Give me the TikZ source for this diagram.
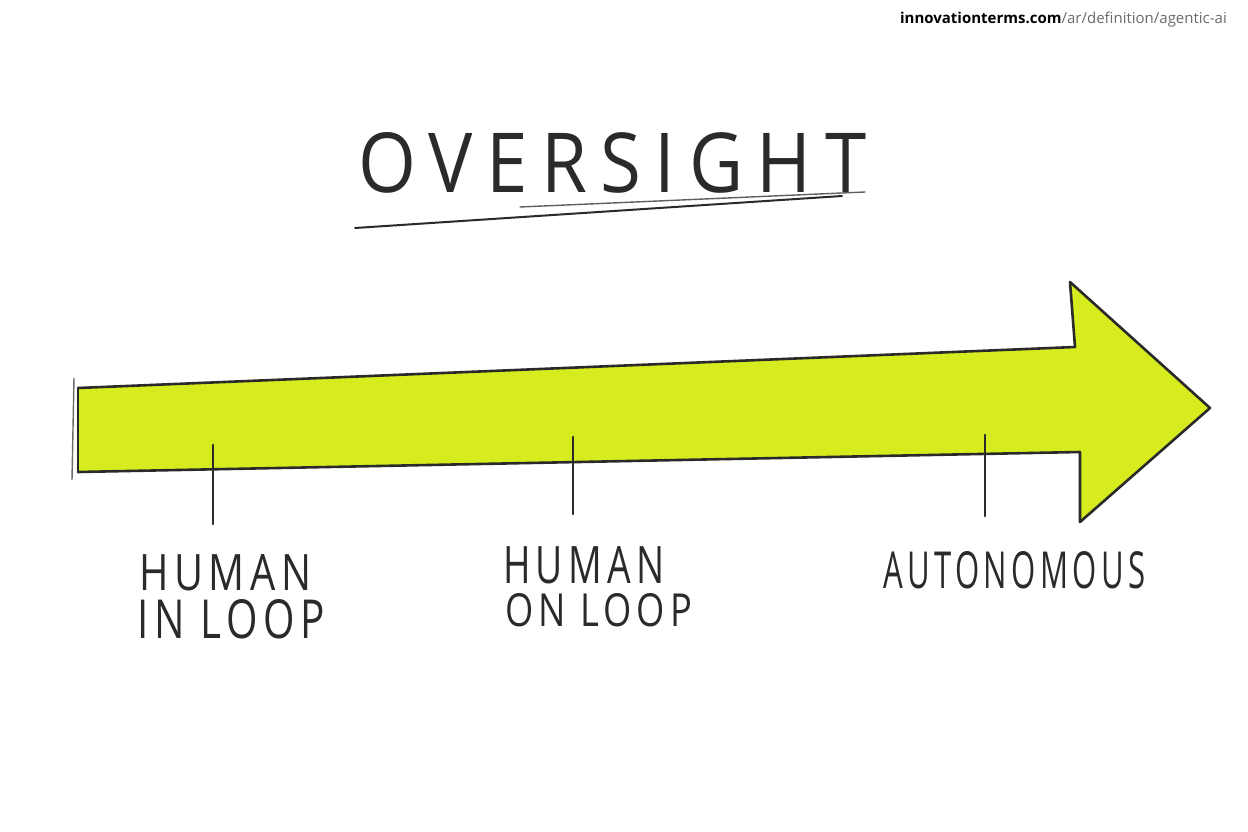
\documentclass[tikz,border=0pt]{standalone}
\usepackage{fontspec}
\usepackage{graphicx}
\usetikzlibrary{calc}
\setmainfont{Open Sans}
\newfontfamily\hand[LetterSpace=14]{Open Sans}
\newfontfamily\titlefont[LetterSpace=18]{Open Sans}
\newfontfamily\urlfont{Open Sans}
\definecolor{marker}{HTML}{D6EC1E}
\definecolor{ink}{HTML}{2A2A2A}
\definecolor{urlgray}{HTML}{6A6A6A}
\newcommand{\fitw}[3]{\resizebox{#1pt}{#2pt}{#3}}
\tikzset{
  pen/.style={draw=ink, line width=2.6pt, line cap=round, line join=round},
  tick/.style={draw=ink, line width=2.8pt, line cap=round},
  lbl/.style={font=\hand\fontsize{46}{56}\selectfont, text=ink, inner sep=0pt, anchor=base west},
}
\begin{document}
\begin{tikzpicture}[x=1pt,y=-1pt]
\useasboundingbox (0,0) rectangle (1248,832);
\fill[white] (0,0) rectangle (1248,832);
% url
\node[anchor=east, inner sep=0pt, font=\urlfont\fontsize{15}{18}\selectfont] (url) at (1227,20) {\textbf{innovationterms.com}\textcolor{urlgray}{/ar/definition/agentic-ai}};
% title
\node[font=\titlefont\fontsize{84}{90}\selectfont, text=ink, inner sep=0pt, anchor=base west] (title) at (358,193) {\fitw{508}{60}{OVERSIGHT}};
\coordinate (ul1) at (355,228);
\coordinate (ul2) at (842,196);
\draw[ink, line width=2pt, line cap=round] (ul1) -- (ul2);
\draw[ink!75, line width=1.4pt, line cap=round] (520,207) -- (865,192);
% arrow
\coordinate (ts) at (78,388);
\coordinate (tj) at (1075,347);
\coordinate (tt) at (1070,282);
\coordinate (ap) at (1210,408);
\coordinate (bt) at (1080,522);
\coordinate (bj) at (1080,452);
\coordinate (bs) at (78,472);
\fill[marker] (ts) -- (tj) -- (tt) -- (ap) -- (bt) -- (bj) -- (bs) -- cycle;
\draw[pen] (ts) -- (tj);
\draw[pen] (tt) -- (tj);
\draw[pen] (tt) -- (ap) -- (bt);
\draw[pen] (bt) -- (bj) -- (bs);
\draw[pen] (ts) -- (bs);
\draw[ink!70, line width=1.4pt] (74,378) -- (72,480);
% ticks
\coordinate (t1a) at (213,445); \coordinate (t1b) at (213,524);
\coordinate (t2a) at (573,437); \coordinate (t2b) at (573,514);
\coordinate (t3a) at (985,435); \coordinate (t3b) at (985,516);
\draw[tick] (t1a) -- (t1b);
\draw[tick] (t2a) -- (t2b);
\draw[tick] (t3a) -- (t3b);
% labels
\node[lbl] (l1a) at (139,590) {\fitw{172}{36}{HUMAN}};
\node[lbl] (l1b) at (137,638) {\fitw{188}{39}{IN LOOP}};
\node[lbl] (l2a) at (503,583) {\fitw{161}{37}{HUMAN}};
\node[lbl] (l2b) at (505,626) {\fitw{187}{33}{ON LOOP}};
\node[lbl] (l3) at (883,588) {\fitw{262}{37}{AUTONOMOUS}};
\end{tikzpicture}
\end{document}
